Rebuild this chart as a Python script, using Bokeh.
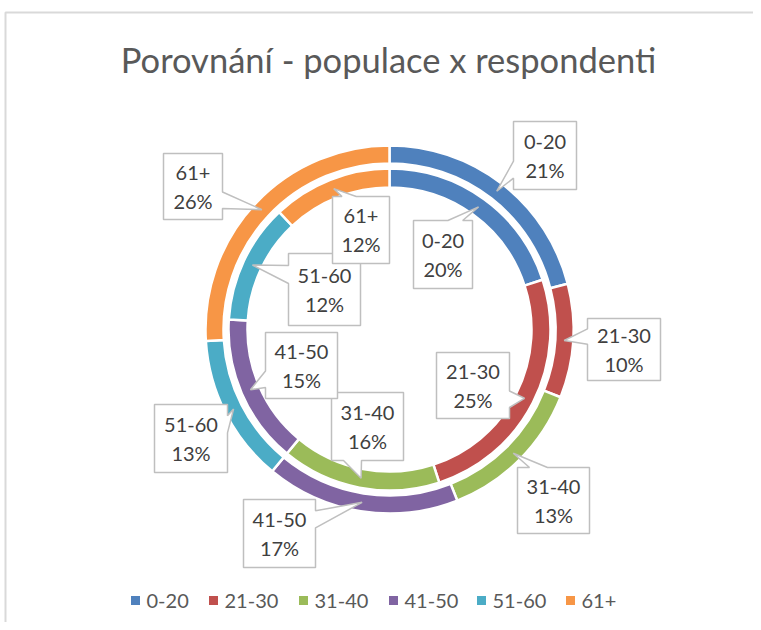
import math
from bokeh.plotting import figure
from bokeh.models import Range1d
from bokeh.core.properties import value
from bokeh.embed import file_html
from bokeh.resources import INLINE

# ---------------- data ----------------
categories = ["0-20", "21-30", "31-40", "41-50", "51-60", "61+"]
outer_values = [21, 10, 13, 17, 13, 26]   # populace (outer ring)
inner_values = [20, 25, 16, 15, 12, 12]   # respondenti (inner ring)
title_text = "Porovnání - populace x respondenti"

# ---------------- styles / layout ----------------
colors = ["#4F81BD", "#C0504D", "#9BBB59", "#8064A2", "#4BACC6", "#F79646"]
W, H = 753, 622
PAGE_H = 630
CX, CY = 389, 329            # centre of the rings (page px)
OUTER_R = (166, 184)
INNER_R = (142, 161)
FONT = value("Lato")

# label boxes (page px: x0, x1, y0, y1)
outer_boxes = [(513, 576, 121, 189), (587, 660, 318, 380), (517, 589, 467, 533),
               (243, 315, 499, 567), (154, 227, 404, 472), (163, 222, 153, 219)]
inner_boxes = [(413, 472, 220, 288), (436, 509, 352, 418), (331, 403, 392, 460),
               (265, 337, 332, 398), (288, 360, 253, 325), (332, 389, 196, 263)]
legend_x = [135, 213, 303, 393, 481, 570]
legend_y = 600


def Y(py):
    return PAGE_H - py


p = figure(width=W, height=H, output_backend="svg", toolbar_location=None,
           x_range=Range1d(0, W), y_range=Range1d(PAGE_H - H, PAGE_H),
           min_border=0, outline_line_color=None)
p.axis.visible = False
p.grid.visible = False
p.background_fill_color = "white"

# chart frame
p.line([5, 5, W], [Y(H), Y(12), Y(12)], line_color="#d9d9d9", line_width=2)

# title
p.text(x=[388], y=[Y(59)], text=[title_text], text_align="center", text_baseline="middle",
       text_font=FONT, text_font_size="34.5px", text_color="#595959")


def ring(values, radii):
    total = float(sum(values))
    starts, ends, mids = [], [], []
    c = 0.0
    for v in values:
        a0 = math.pi / 2 - 2 * math.pi * c / total
        c += v
        a1 = math.pi / 2 - 2 * math.pi * c / total
        starts.append(a0)
        ends.append(a1)
        mids.append((a0 + a1) / 2)
    n = len(values)
    p.annular_wedge(x=[CX] * n, y=[Y(CY)] * n, inner_radius=radii[0], outer_radius=radii[1],
                    start_angle=starts, end_angle=ends, direction="clock",
                    fill_color=colors[:n], line_color="white", line_width=2.5)
    rm = (radii[0] + radii[1]) / 2
    tips = [(CX + rm * math.cos(m), CY - rm * math.sin(m)) for m in mids]
    return tips


def callout(box, tip):
    x0, x1, y0, y1 = box
    tx, ty = tip
    w, h = x1 - x0, y1 - y0
    hc, vc = (x0 + x1) / 2, (y0 + y1) / 2
    dxp, dyp = tx - hc, ty - vc
    if x0 <= tx <= x1 and y0 <= ty <= y1:
        pts = [(x0, y0), (x1, y0), (x1, y1), (x0, y1)]
    elif abs(dxp * h / w) > abs(dyp):
        g1, g2 = (7, 10) if dyp > 0 else (2, 5)
        ya, yb = y0 + h * g1 / 12, y0 + h * g2 / 12
        if dxp > 0:
            pts = [(x0, y0), (x1, y0), (x1, ya), (tx, ty), (x1, yb), (x1, y1), (x0, y1)]
        else:
            pts = [(x0, y0), (x1, y0), (x1, y1), (x0, y1), (x0, yb), (tx, ty), (x0, ya)]
    else:
        g1, g2 = (7, 10) if dxp > 0 else (2, 5)
        xa, xb = x0 + w * g1 / 12, x0 + w * g2 / 12
        if dyp < 0:
            pts = [(x0, y0), (xa, y0), (tx, ty), (xb, y0), (x1, y0), (x1, y1), (x0, y1)]
        else:
            pts = [(x0, y0), (x1, y0), (x1, y1), (xb, y1), (tx, ty), (xa, y1), (x0, y1)]
    return [q[0] for q in pts], [Y(q[1]) for q in pts]


def labels(values, boxes, tips):
    total = float(sum(values))
    xs, ys, tx, ty, tt = [], [], [], [], []
    for cat, v, box, tip in zip(categories, values, boxes, tips):
        px, py = callout(box, tip)
        xs.append(px)
        ys.append(py)
        cx = (box[0] + box[1]) / 2
        cy = (box[2] + box[3]) / 2
        tx += [cx, cx]
        ty += [Y(cy - 14), Y(cy + 14)]
        tt += [cat, "%d%%" % round(100 * v / total)]
    p.patches(xs, ys, fill_color="white", line_color="#bfbfbf", line_width=1.5)
    p.text(x=tx, y=ty, text=tt, text_align="center", text_baseline="middle",
           text_font=FONT, text_font_size="20px", text_color="#404040")


outer_tips = ring(outer_values, OUTER_R)
inner_tips = ring(inner_values, INNER_R)
labels(outer_values, outer_boxes, outer_tips)
labels(inner_values, inner_boxes, inner_tips)

# legend
p.rect(x=legend_x, y=[Y(legend_y)] * len(categories), width=9, height=9,
       fill_color=colors, line_color=None)
p.text(x=[lx + 11 for lx in legend_x], y=[Y(legend_y)] * len(categories), text=categories,
       text_align="left", text_baseline="middle", text_font=FONT, text_font_size="20px",
       text_color="#595959")

open("out.html", "w").write(file_html(p, INLINE))
